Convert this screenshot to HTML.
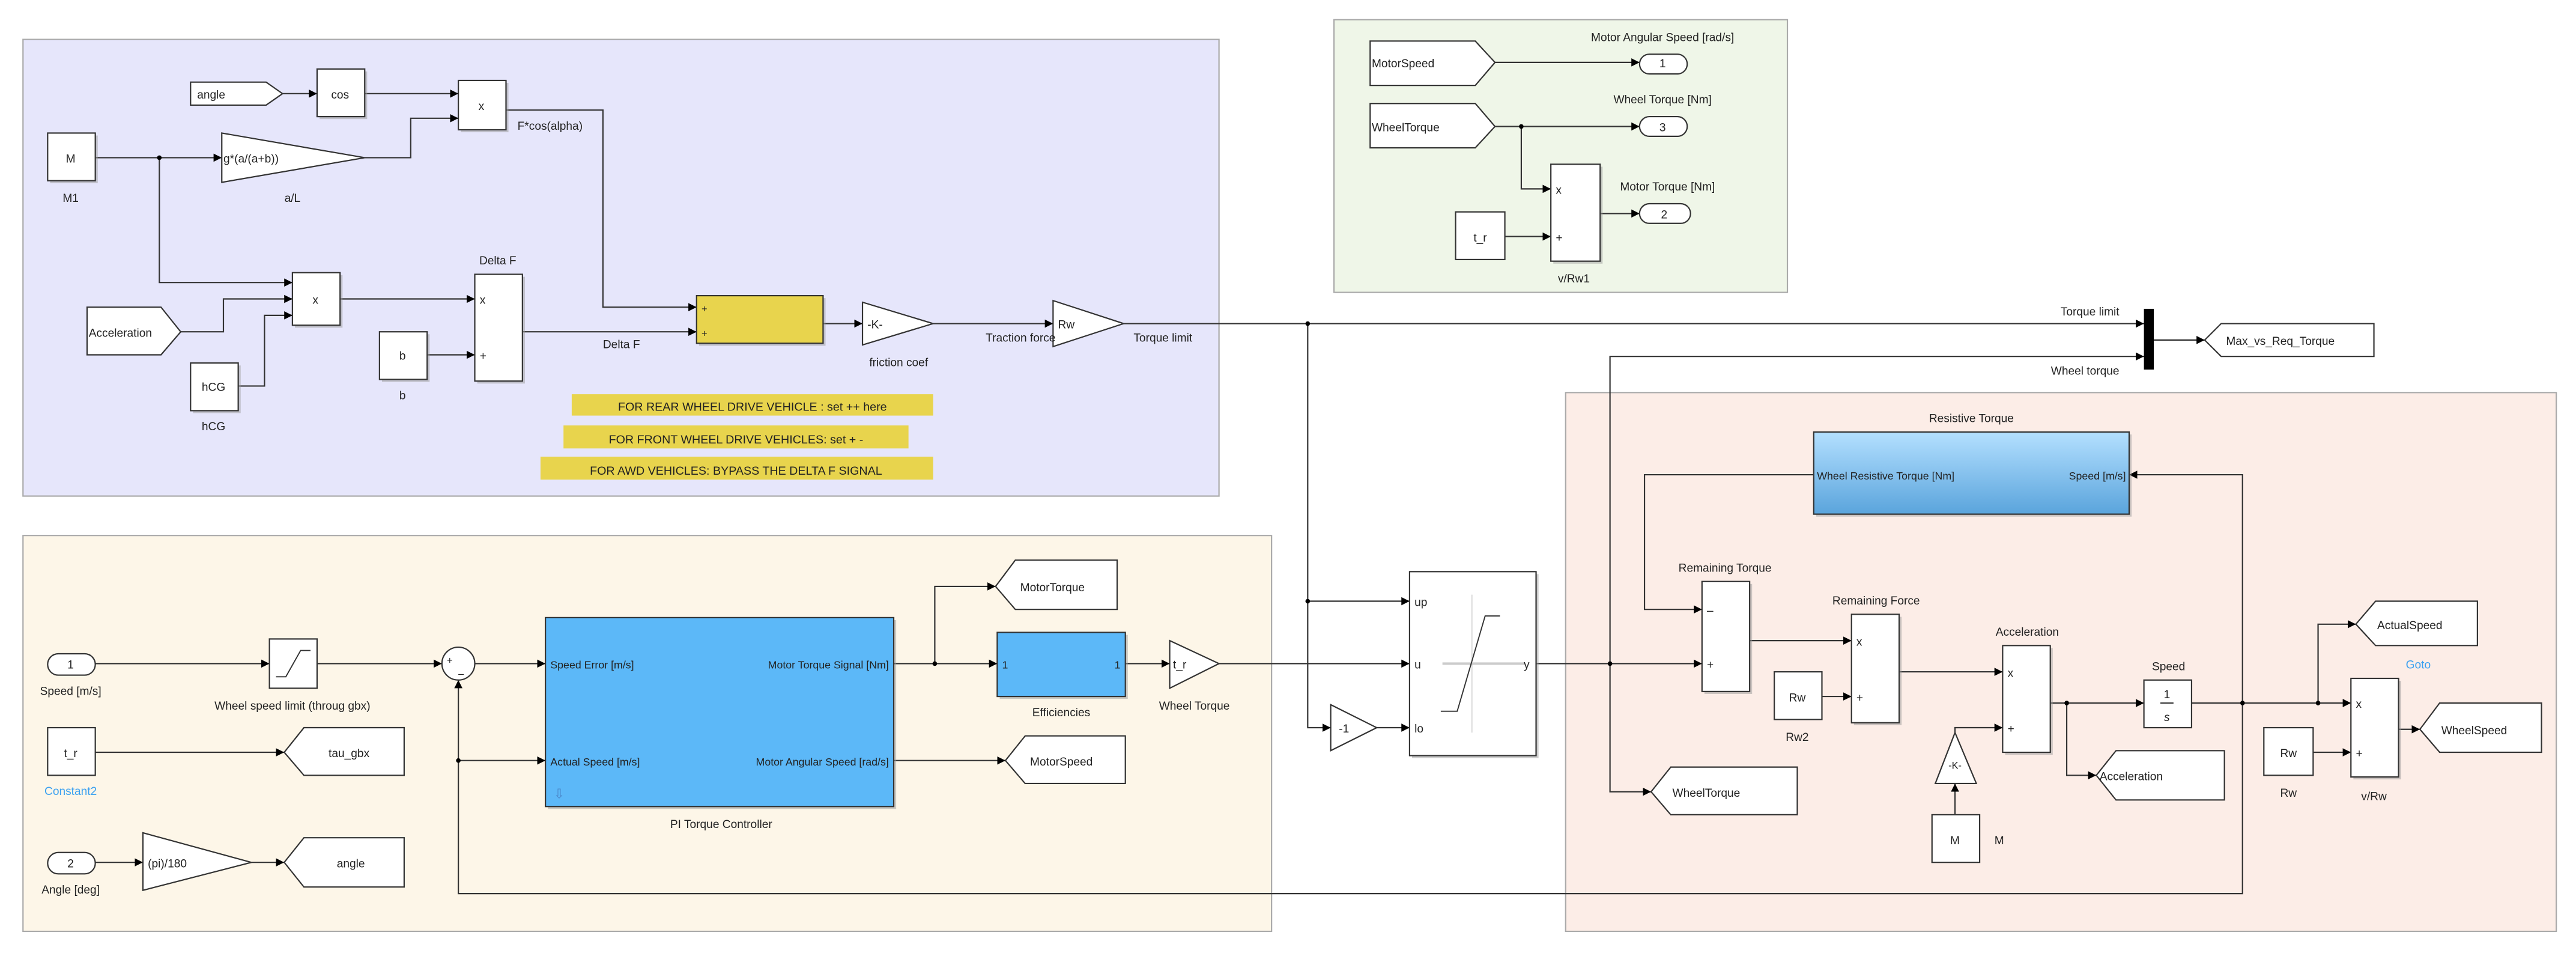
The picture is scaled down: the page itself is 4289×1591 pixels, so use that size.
<!DOCTYPE html>
<html><head><meta charset="utf-8"><style>
html,body{margin:0;padding:0;background:#fff;}
svg{display:block;}
text{font-family:"Liberation Sans",sans-serif;fill:#222;}
</style></head><body>
<svg width="4289" height="1591" viewBox="0 0 1568 582" preserveAspectRatio="none" xmlns="http://www.w3.org/2000/svg">
<defs>
<marker id="a" viewBox="0 0 10 10" refX="10" refY="5" markerWidth="5" markerHeight="5" orient="auto" markerUnits="userSpaceOnUse"><path d="M0,0 L10,5 L0,10 z" fill="#000"/></marker>
<linearGradient id="rg" x1="0" y1="0" x2="0" y2="1"><stop offset="0" stop-color="#b4e0ff"/><stop offset="1" stop-color="#5aa4dc"/></linearGradient>
</defs>
<!-- areas -->
<rect x="14" y="24" width="728" height="278" fill="#e6e6fb" stroke="#aaa" stroke-width="0.8"/>
<rect x="812" y="12" width="276" height="166" fill="#eff6e8" stroke="#aaa" stroke-width="0.8"/>
<rect x="14" y="326" width="760" height="241" fill="#fdf6e8" stroke="#aaa" stroke-width="0.8"/>
<rect x="953" y="239" width="603" height="328" fill="#fcede7" stroke="#aaa" stroke-width="0.8"/>

<g fill="none" stroke="#333" stroke-width="0.8">
<!-- purple lines -->
<polyline points="172,57 193,57" marker-end="url(#a)"/>
<polyline points="222,57 279,57" marker-end="url(#a)"/>
<polyline points="58,96 135,96" marker-end="url(#a)"/>
<polyline points="222,96 250,96 250,72 279,72" marker-end="url(#a)"/>
<polyline points="308,67 367,67 367,187 424,187" marker-end="url(#a)"/>
<polyline points="97,96 97,172 178,172" marker-end="url(#a)"/>
<polyline points="110,202 136,202 136,182 178,182" marker-end="url(#a)"/>
<polyline points="145,235 161,235 161,192 178,192" marker-end="url(#a)"/>
<polyline points="207,182 289,182" marker-end="url(#a)"/>
<polyline points="260,216 289,216" marker-end="url(#a)"/>
<polyline points="318,202 424,202" marker-end="url(#a)"/>
<polyline points="501,197 525,197" marker-end="url(#a)"/>
<polyline points="568,197 641,197" marker-end="url(#a)"/>
<polyline points="684,197 1305,197" marker-end="url(#a)"/>
<polyline points="796,197 796,443 810,443" marker-end="url(#a)"/>
<polyline points="796,366 858,366" marker-end="url(#a)"/>
<polyline points="838,443 858,443" marker-end="url(#a)"/>
<polyline points="742,404 858,404" marker-end="url(#a)"/>
<polyline points="935,404 1036,404" marker-end="url(#a)"/>
<polyline points="980,404 980,217 1305,217" marker-end="url(#a)"/>
<polyline points="980,404 980,482 1005,482" marker-end="url(#a)"/>
<polyline points="1311,207 1342,207" marker-end="url(#a)"/>
<polyline points="1104,289 1001,289 1001,371 1036,371" marker-end="url(#a)"/>
<polyline points="1365,428 1365,289 1296,289" marker-end="url(#a)"/>
<polyline points="1365,428 1365,544 279,544 279,414" marker-end="url(#a)"/>
<polyline points="1065,390 1127,390" marker-end="url(#a)"/>
<polyline points="1109,424 1127,424" marker-end="url(#a)"/>
<polyline points="1156,409 1219,409" marker-end="url(#a)"/>
<polyline points="1190,496 1190,477" marker-end="url(#a)"/>
<polyline points="1190,446 1190,443 1219,443" marker-end="url(#a)"/>
<polyline points="1248,428 1305,428" marker-end="url(#a)"/>
<polyline points="1258,428 1258,472 1276,472" marker-end="url(#a)"/>
<polyline points="1334,428 1431,428" marker-end="url(#a)"/>
<polyline points="1411,428 1411,380 1434,380" marker-end="url(#a)"/>
<polyline points="1408,458 1431,458" marker-end="url(#a)"/>
<polyline points="1460,444 1473,444" marker-end="url(#a)"/>
<!-- green -->
<polyline points="910,38 998,38" marker-end="url(#a)"/>
<polyline points="910,77 998,77" marker-end="url(#a)"/>
<polyline points="926,77 926,115 944,115" marker-end="url(#a)"/>
<polyline points="916,144 944,144" marker-end="url(#a)"/>
<polyline points="974,130 998,130" marker-end="url(#a)"/>
<!-- bottom left -->
<polyline points="58,404 164,404" marker-end="url(#a)"/>
<polyline points="193,404 269,404" marker-end="url(#a)"/>
<polyline points="289,404 332,404" marker-end="url(#a)"/>
<polyline points="279,463 332,463" marker-end="url(#a)"/>
<polyline points="544,404 607,404" marker-end="url(#a)"/>
<polyline points="569,404 569,357 606,357" marker-end="url(#a)"/>
<polyline points="685,404 712,404" marker-end="url(#a)"/>
<polyline points="544,463 612,463" marker-end="url(#a)"/>
<polyline points="58,458 173,458" marker-end="url(#a)"/>
<polyline points="58,525 87,525" marker-end="url(#a)"/>
<polyline points="153,525 173,525" marker-end="url(#a)"/>
</g>
<g fill="#000">
<circle cx="97" cy="96" r="1.4"/><circle cx="796" cy="197" r="1.4"/><circle cx="796" cy="366" r="1.4"/>
<circle cx="980" cy="404" r="1.4"/><circle cx="1365" cy="428" r="1.4"/><circle cx="1258" cy="428" r="1.4"/>
<circle cx="1411" cy="428" r="1.4"/><circle cx="926" cy="77" r="1.4"/><circle cx="279" cy="463" r="1.4"/>
<circle cx="569" cy="404" r="1.4"/>
<rect x="1305" y="188" width="6" height="37"/>
</g>

<!-- shadows -->
<g fill="#999" opacity="0.5">
<rect x="194.5" y="43.5" width="29" height="29"/><rect x="280.5" y="50.5" width="29" height="30"/>
<rect x="30.5" y="82.5" width="29" height="29"/><rect x="179.5" y="167.5" width="29" height="32"/>
<rect x="290.5" y="168.5" width="29" height="65"/><rect x="232.5" y="203.5" width="29" height="29"/>
<rect x="117.5" y="222.5" width="29" height="29"/><rect x="425.5" y="181.5" width="77" height="29"/>
<rect x="859.5" y="349.5" width="77" height="112"/><rect x="1037.5" y="355.5" width="29" height="67"/>
<rect x="1128.5" y="375.5" width="29" height="66"/><rect x="1220.5" y="394.5" width="29" height="65"/>
<rect x="1432.5" y="414.5" width="29" height="60"/><rect x="945.5" y="101.5" width="30" height="59"/>
<rect x="333.5" y="377.5" width="212" height="115"/><rect x="608.5" y="386.5" width="78" height="39"/>
<rect x="1105.5" y="264.5" width="192" height="50"/>
</g>

<g fill="#fff" stroke="#333" stroke-width="0.8">
<!-- purple blocks -->
<polygon points="116,50 162,50 172,57 162,64 116,64"/>
<rect x="193" y="42" width="29" height="29"/>
<rect x="279" y="49" width="29" height="30"/>
<rect x="29" y="81" width="29" height="29"/>
<polygon points="135,81 222,96 135,111"/>
<rect x="178" y="166" width="29" height="32"/>
<polygon points="53,187 98,187 110,202 98,216 53,216"/>
<rect x="116" y="221" width="29" height="29"/>
<rect x="289" y="167" width="29" height="65"/>
<rect x="231" y="202" width="29" height="29"/>
<rect x="424" y="180" width="77" height="29" fill="#e8d44d"/>
<polygon points="525,184 568,197 525,210"/>
<polygon points="641,183 684,197 641,211"/>
<!-- green -->
<polygon points="834,25 898,25 910,38 898,52 834,52"/>
<polygon points="834,63 898,63 910,77 898,90 834,90"/>
<rect x="998" y="33" width="29" height="12" rx="6"/>
<rect x="998" y="71" width="29" height="12" rx="6"/>
<rect x="998" y="124" width="31" height="12" rx="6"/>
<rect x="944" y="100" width="30" height="59"/>
<rect x="886" y="129" width="30" height="29"/>
<!-- bus goto -->
<polygon points="1342,207 1352,197 1445,197 1445,217 1352,217"/>
<!-- right -->
<rect x="1104" y="263" width="192" height="50" fill="url(#rg)"/>
<rect x="858" y="348" width="77" height="112"/>
<polygon points="810,429 838,443 810,457"/>
<rect x="1036" y="354" width="29" height="67"/>
<rect x="1127" y="374" width="29" height="66"/>
<rect x="1080" y="409" width="29" height="29"/>
<rect x="1219" y="393" width="29" height="65"/>
<polygon points="1190,446 1203,477 1178,477"/>
<rect x="1176" y="496" width="29" height="29"/>
<rect x="1305" y="414" width="29" height="29"/>
<polygon points="1276,472 1288,457 1354,457 1354,487 1288,487"/>
<polygon points="1005,482 1017,467 1094,467 1094,496 1017,496"/>
<polygon points="1434,380 1446,366 1508,366 1508,393 1446,393"/>
<rect x="1431" y="413" width="29" height="60"/>
<rect x="1378" y="443" width="30" height="29"/>
<polygon points="1473,444 1485,428 1547,428 1547,458 1485,458"/>
<!-- bottom-left -->
<rect x="29" y="398" width="29" height="13" rx="6.5"/>
<rect x="164" y="389" width="29" height="30"/>
<circle cx="279" cy="404" r="10"/>
<rect x="332" y="376" width="212" height="115" fill="#5cb8f8"/>
<polygon points="606,357 618,341 680,341 680,371 618,371"/>
<rect x="607" y="385" width="78" height="39" fill="#5cb8f8"/>
<polygon points="712,390 742,404 712,419"/>
<polygon points="612,463 624,448 685,448 685,477 624,477"/>
<rect x="29" y="443" width="29" height="29"/>
<polygon points="173,458 185,443 246,443 246,472 185,472"/>
<rect x="29" y="519" width="29" height="13" rx="6.5"/>
<polygon points="87,507 153,525 87,542"/>
<polygon points="173,525 185,510 246,510 246,540 185,540"/>
</g>
<!-- icons -->
<g fill="none" stroke="#333" stroke-width="0.7">
<polyline points="168,412 174,412 183,396 189,396"/>
<line x1="878" y1="404" x2="928" y2="404" stroke="#ccc" stroke-width="1.5"/>
<line x1="896" y1="362" x2="896" y2="446" stroke="#bbb" stroke-width="0.4"/>
<polyline points="877,433 887,433 904,375 913,375"/>
<line x1="1315" y1="428" x2="1323" y2="428"/>
</g>
<!-- yellow notes -->
<rect x="348" y="240" width="220" height="13" fill="#e8d44d"/>
<rect x="343" y="259" width="210" height="14" fill="#e8d44d"/>
<rect x="329" y="278" width="239" height="14" fill="#e8d44d"/>

<g font-size="7.2">
<text x="458" y="250" text-anchor="middle">FOR REAR WHEEL DRIVE VEHICLE : set ++ here</text>
<text x="448" y="270" text-anchor="middle">FOR FRONT WHEEL DRIVE VEHICLES: set + -</text>
<text x="448" y="289" text-anchor="middle">FOR AWD VEHICLES: BYPASS THE DELTA F SIGNAL</text>
</g>
<g font-size="7">
<text x="120" y="60">angle</text>
<text x="207" y="60" text-anchor="middle">cos</text>
<text x="293" y="67" text-anchor="middle">x</text>
<text x="43" y="99" text-anchor="middle">M</text>
<text x="43" y="123" text-anchor="middle">M1</text>
<text x="136" y="99">g*(a/(a+b))</text>
<text x="178" y="123" text-anchor="middle">a/L</text>
<text x="315" y="79">F*cos(alpha)</text>
<text x="192" y="185" text-anchor="middle">x</text>
<text x="54" y="205">Acceleration</text>
<text x="130" y="238" text-anchor="middle">hCG</text>
<text x="130" y="262" text-anchor="middle">hCG</text>
<text x="303" y="161" text-anchor="middle">Delta F</text>
<text x="292" y="185">x</text>
<text x="292" y="219">+</text>
<text x="245" y="219" text-anchor="middle">b</text>
<text x="245" y="243" text-anchor="middle">b</text>
<text x="367" y="212">Delta F</text>
<text x="427" y="190" font-size="6">+</text>
<text x="427" y="205" font-size="6">+</text>
<text x="528" y="200">-K-</text>
<text x="547" y="223" text-anchor="middle">friction coef</text>
<text x="644" y="200">Rw</text>
<text x="600" y="208">Traction force</text>
<text x="690" y="208">Torque limit</text>
<text x="1290" y="192" text-anchor="end">Torque limit</text>
<text x="1290" y="228" text-anchor="end">Wheel torque</text>
<text x="1355" y="210">Max_vs_Req_Torque</text>
<!-- green -->
<text x="835" y="41">MotorSpeed</text>
<text x="835" y="80">WheelTorque</text>
<text x="1012" y="25" text-anchor="middle">Motor Angular Speed [rad/s]</text>
<text x="1012" y="63" text-anchor="middle">Wheel Torque [Nm]</text>
<text x="1015" y="116" text-anchor="middle">Motor Torque [Nm]</text>
<text x="1012" y="41" text-anchor="middle">1</text>
<text x="1012" y="80" text-anchor="middle">3</text>
<text x="1013" y="133" text-anchor="middle">2</text>
<text x="947" y="118">x</text>
<text x="947" y="147">+</text>
<text x="901" y="147" text-anchor="middle">t_r</text>
<text x="958" y="172" text-anchor="middle">v/Rw1</text>
<!-- right -->
<text x="1200" y="257" text-anchor="middle">Resistive Torque</text>
<text x="1106" y="292" font-size="6.5">Wheel Resistive Torque [Nm]</text>
<text x="1294" y="292" font-size="6.5" text-anchor="end">Speed [m/s]</text>
<text x="861" y="369">up</text>
<text x="861" y="407">u</text>
<text x="861" y="446">lo</text>
<text x="931" y="407" text-anchor="end">y</text>
<text x="815" y="446">-1</text>
<text x="1050" y="348" text-anchor="middle">Remaining Torque</text>
<text x="1039" y="374">–</text>
<text x="1039" y="407">+</text>
<text x="1142" y="368" text-anchor="middle">Remaining Force</text>
<text x="1130" y="393">x</text>
<text x="1130" y="427">+</text>
<text x="1094" y="427" text-anchor="middle">Rw</text>
<text x="1094" y="451" text-anchor="middle">Rw2</text>
<text x="1234" y="387" text-anchor="middle">Acceleration</text>
<text x="1222" y="412">x</text>
<text x="1222" y="446">+</text>
<text x="1190" y="468" font-size="6" text-anchor="middle">-K-</text>
<text x="1190" y="514" text-anchor="middle">M</text>
<text x="1214" y="514">M</text>
<text x="1320" y="408" text-anchor="middle">Speed</text>
<text x="1319" y="425" text-anchor="middle" font-size="7">1</text>
<text x="1319" y="439" text-anchor="middle" font-size="7" font-style="italic">s</text>
<text x="1278" y="475">Acceleration</text>
<text x="1018" y="485">WheelTorque</text>
<text x="1447" y="383">ActualSpeed</text>
<text x="1472" y="407" text-anchor="middle" style="fill:#3aa0f0">Goto</text>
<text x="1434" y="431">x</text>
<text x="1434" y="461">+</text>
<text x="1445" y="487" text-anchor="middle">v/Rw</text>
<text x="1393" y="461" text-anchor="middle">Rw</text>
<text x="1393" y="485" text-anchor="middle">Rw</text>
<text x="1486" y="447">WheelSpeed</text>
<!-- bottom left -->
<text x="43" y="407" text-anchor="middle">1</text>
<text x="43" y="423" text-anchor="middle">Speed [m/s]</text>
<text x="178" y="432" text-anchor="middle">Wheel speed limit (throug gbx)</text>
<text x="272" y="404" font-size="6">+</text>
<text x="279" y="412" font-size="6">–</text>
<text x="335" y="407" font-size="6.5">Speed Error [m/s]</text>
<text x="335" y="466" font-size="6.5">Actual Speed [m/s]</text>
<text x="541" y="407" font-size="6.5" text-anchor="end">Motor Torque Signal [Nm]</text>
<text x="541" y="466" font-size="6.5" text-anchor="end">Motor Angular Speed [rad/s]</text>
<text x="337" y="486" font-size="8" style="fill:#4a86c8">⇩</text>
<text x="439" y="504" text-anchor="middle">PI Torque Controller</text>
<text x="621" y="360">MotorTorque</text>
<text x="610" y="407" font-size="6.5">1</text>
<text x="682" y="407" font-size="6.5" text-anchor="end">1</text>
<text x="646" y="436" text-anchor="middle">Efficiencies</text>
<text x="714" y="407">t_r</text>
<text x="727" y="432" text-anchor="middle">Wheel Torque</text>
<text x="627" y="466">MotorSpeed</text>
<text x="43" y="461" text-anchor="middle">t_r</text>
<text x="43" y="484" text-anchor="middle" style="fill:#3aa0f0">Constant2</text>
<text x="200" y="461">tau_gbx</text>
<text x="43" y="528" text-anchor="middle">2</text>
<text x="43" y="544" text-anchor="middle">Angle [deg]</text>
<text x="90" y="528">(pi)/180</text>
<text x="205" y="528">angle</text>
</g>
</svg>
</body></html>
